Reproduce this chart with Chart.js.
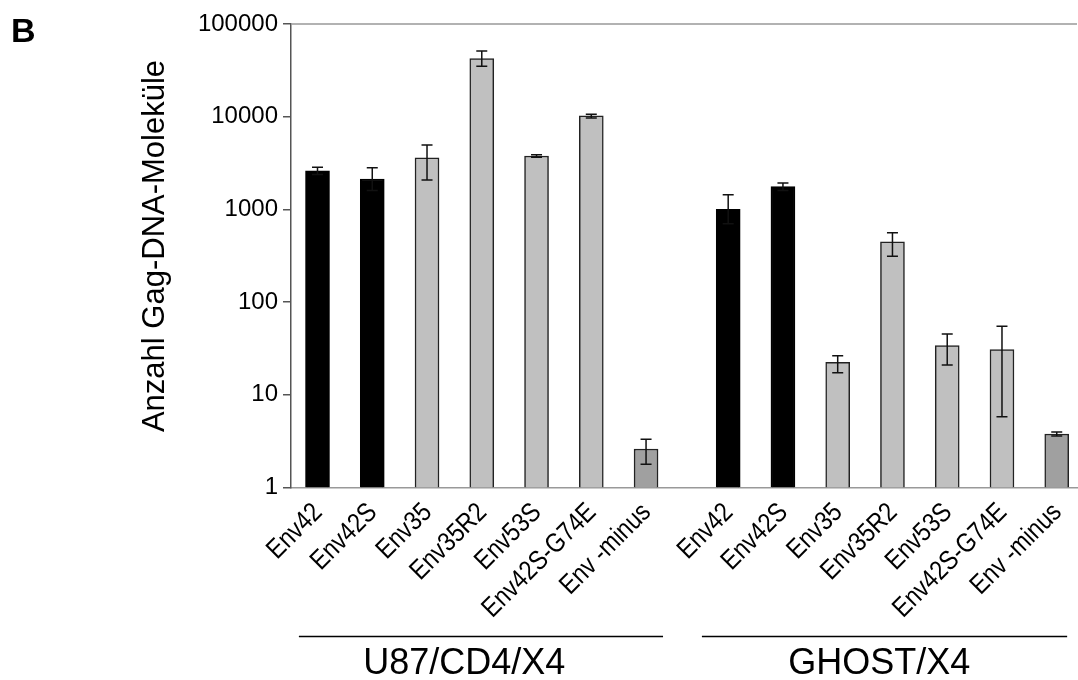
<!DOCTYPE html>
<html>
<head>
<meta charset="utf-8">
<script src="https://cdn.jsdelivr.net/npm/chart.js@4/dist/chart.umd.min.js"></script>
<style>
  html, body { margin: 0; padding: 0; background: #fff; }
  #wrap { width: 1078px; height: 680px; position: relative; }
</style>
</head>
<body>
<div id="wrap"><canvas id="chart_gag"></canvas></div>
<script>
/* data */
const panelLetter = 'B';
const yTitle      = 'Anzahl Gag-DNA-Moleküle';
const cellLines   = ['U87/CD4/X4', 'GHOST/X4'];
const envLabels   = ['Env42', 'Env42S', 'Env35', 'Env35R2', 'Env53S', 'Env42S-G74E', 'Env -minus'];
const yTicks      = [1, 10, 100, 1000, 10000, 100000];
/* U87/CD4/X4 */
const u87Values   = [2600, 2130, 3610, 42300, 3770, 10200, 2.6];
const u87ErrHigh  = [2845, 2820, 4950, 51200, 3890, 10600, 3.31];
const u87ErrLow   = [2380, 1600, 2080, 35000, 3650, 9700, 1.78];
/* GHOST/X4 */
const ghostValues  = [1000, 1760, 22.4, 448, 33.9, 30.7, 3.78];
const ghostErrHigh = [1440, 1930, 26.4, 561, 45.3, 54.8, 3.96];
const ghostErrLow  = [700, 1600, 17.3, 312, 21.0, 5.8, 3.59];

/* layout helpers */
const FONT     = '"Liberation Sans", Arial, sans-serif';
const groupGap = 1.5;   // extra slots between the two cell lines
const barFill  = (label)=>{
    if(label === 'Env42' || label === 'Env42S'){ return '#000000'; };
    if(label === 'Env -minus'){ return '#a0a0a0'; };
    return '#c0c0c0';
};
const barBorder = (label)=>{
    return (label === 'Env42' || label === 'Env42S') ? '#000000' : '#222222';
};

let points = [];
let groups = [[u87Values, u87ErrLow, u87ErrHigh], [ghostValues, ghostErrLow, ghostErrHigh]];
for(let g = 0; g < groups.length; g++){
    for(let i = 0; i < envLabels.length; i++){
        points.push({
            x: g * (envLabels.length - 1 + groupGap) + i,
            y: groups[g][0][i],
            lo: groups[g][1][i],
            hi: groups[g][2][i],
            label: envLabels[i],
            group: g
        });
    };
};

/* error bars */
const errorBarPlugin = {
    id: 'errorBars',
    afterDatasetsDraw(chart){
        let ctx = chart.ctx;
        let xs  = chart.scales.x;
        let ys  = chart.scales.y;
        ctx.save();
        ctx.strokeStyle = '#111';
        ctx.lineWidth = 1.5;
        points.forEach((p)=>{
            let x  = xs.getPixelForValue(p.x);
            let y1 = ys.getPixelForValue(p.hi);
            let y2 = ys.getPixelForValue(p.lo);
            ctx.beginPath();
            ctx.moveTo(x, y1); ctx.lineTo(x, y2);
            ctx.moveTo(x - 5.5, y1); ctx.lineTo(x + 5.5, y1);
            ctx.moveTo(x - 5.5, y2); ctx.lineTo(x + 5.5, y2);
            ctx.stroke();
        });
        ctx.restore();
    }
};

/* texts, frame top line, rotated x labels, group lines */
const decorPlugin = {
    id: 'decor',
    afterDraw(chart){
        let ctx = chart.ctx;
        let xs  = chart.scales.x;
        let area = chart.chartArea;
        ctx.save();
        /* top frame line */
        ctx.strokeStyle = '#999';
        ctx.lineWidth = 1.5;
        ctx.beginPath();
        ctx.moveTo(area.left, area.top); ctx.lineTo(area.right, area.top);
        ctx.stroke();
        /* panel letter */
        ctx.fillStyle = '#000';
        ctx.font = 'bold 34px ' + FONT;
        ctx.textAlign = 'left';
        ctx.textBaseline = 'alphabetic';
        ctx.fillText(panelLetter, 11, 42);
        /* y title */
        ctx.font = '31px ' + FONT;
        ctx.save();
        ctx.translate(164, 246);
        ctx.rotate(-Math.PI / 2);
        ctx.textAlign = 'center';
        ctx.fillText(yTitle, 0, 0);
        ctx.restore();
        /* x labels, narrow and at 45 degrees */
        ctx.font = '27px ' + FONT;
        ctx.textAlign = 'right';
        points.forEach((p)=>{
            ctx.save();
            ctx.translate(xs.getPixelForValue(p.x) + 6, area.bottom + 26);
            ctx.rotate(-Math.PI / 4);
            ctx.scale(0.86, 1);
            ctx.fillText(p.label, 0, 0);
            ctx.restore();
        });
        /* group lines and labels */
        let spans = [[-0.34, 6.31, 2.68], [7.02, 13.69, 10.26]];
        ctx.strokeStyle = '#000';
        ctx.lineWidth = 1.5;
        ctx.font = '36px ' + FONT;
        ctx.textAlign = 'center';
        for(let g = 0; g < cellLines.length; g++){
            ctx.beginPath();
            ctx.moveTo(xs.getPixelForValue(spans[g][0]), 636.5);
            ctx.lineTo(xs.getPixelForValue(spans[g][1]), 636.5);
            ctx.stroke();
            ctx.fillText(cellLines[g], xs.getPixelForValue(spans[g][2]), 674);
        };
        ctx.restore();
    }
};

let ctx_gag = document.querySelector('#chart_gag').getContext('2d');
let chart_gag = new Chart(ctx_gag, {
    type: 'bar',
    data: {
        datasets: [{
            data: points,
            backgroundColor: points.map(p => barFill(p.label)),
            borderColor: points.map(p => barBorder(p.label)),
            borderWidth: 1.5,
            borderSkipped: 'bottom',
            barThickness: 24
        }]
    },
    options: {
        responsive: true,
        maintainAspectRatio: false,
        animation: false,
        layout: { padding: { top: 24, right: 1, bottom: 0, left: 0 } },
        plugins: {
            legend: { display: false },
            tooltip: { enabled: false }
        },
        scales: {
            x: {
                type: 'linear',
                offset: false,
                min: -0.484,
                max: 13.87,
                grid: { display: false, drawTicks: false },
                border: { display: true, color: '#999', width: 1.5 },
                afterBuildTicks: (scale)=>{ scale.ticks = points.map(p => ({ value: p.x })); },
                afterFit: (scale)=>{ scale.height = 192.5; },
                ticks: { display: false }
            },
            y: {
                type: 'logarithmic',
                min: 1,
                max: 100000,
                grid: { display: true, drawOnChartArea: false, drawTicks: true, tickLength: 8, color: '#555', lineWidth: 1.5 },
                border: { display: true, color: '#555', width: 1.5 },
                afterBuildTicks: (scale)=>{ scale.ticks = yTicks.map(v => ({ value: v })); },
                afterFit: (scale)=>{ scale.width = 291; },
                ticks: {
                    padding: 5,
                    color: '#000',
                    font: { family: FONT, size: 24 },
                    callback: (value)=> String(value)
                }
            }
        }
    },
    plugins: [errorBarPlugin, decorPlugin]
});
</script>
</body>
</html>
